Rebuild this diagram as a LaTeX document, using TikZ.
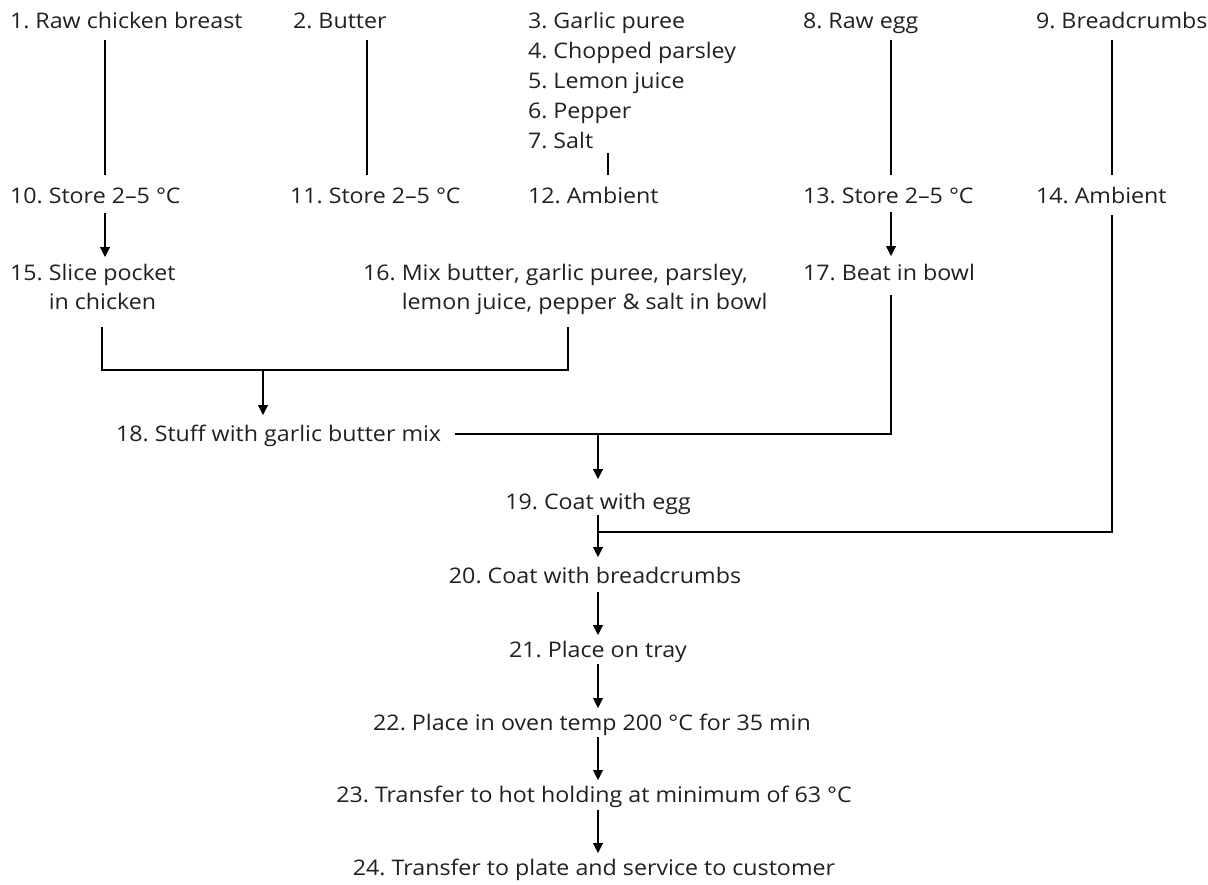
\documentclass[tikz,border=0pt]{standalone}
\usepackage{fontspec}
\setmainfont{Open Sans}[FakeStretch=1.08]
\usetikzlibrary{arrows.meta,calc}
\definecolor{ink}{RGB}{35,31,32}
\newcommand\lblfont{\fontsize{21.5pt}{29pt}\selectfont}
\newcommand\listfont{\fontsize{21.5pt}{30pt}\selectfont}
\frenchspacing
\begin{document}
\begin{tikzpicture}[x=1pt,y=-1pt]
\tikzset{
  lbl/.style={inner sep=0pt, outer sep=0pt, font=\lblfont, text=ink, anchor=base west, align=left},
  ctr/.style={lbl, anchor=base},
  flow/.style={line width=1.1pt, draw=black},
  arr/.style={flow, -{Triangle[width=10pt,length=10pt]}}
}
\useasboundingbox (0,0) rectangle (1208,884);

% column positions of the connectors
\coordinate (c1) at (105,0);
\coordinate (c2) at (367,0);
\coordinate (c3) at (608,0);
\coordinate (c8) at (891,0);
\coordinate (c9) at (1112,0);
\coordinate (cL) at (102,0);
\coordinate (cR) at (568,0);
\coordinate (cM) at (263,0);
\coordinate (cC) at (598,0);

% raw materials (multi-line nodes sit on the baseline of their last line)
\node[lbl] (n1) at (10,28) {1. Raw chicken breast};
\node[lbl] (n2) at (293,28) {2. Butter};
\node[lbl, font=\listfont] (n3) at (528,148) {3. Garlic puree\\4. Chopped parsley\\5. Lemon juice\\6. Pepper\\7. Salt};
\node[lbl] (n8) at (803,28) {8. Raw egg};
\node[lbl] (n9) at (1036,28) {9. Breadcrumbs};

% storage
\node[lbl] (n10) at (10,203) {10. Store 2–5 °C};
\node[lbl] (n11) at (290,203) {11. Store 2–5 °C};
\node[lbl] (n12) at (528,203) {12. Ambient};
\node[lbl] (n13) at (803,203) {13. Store 2–5 °C};
\node[lbl] (n14) at (1036,203) {14. Ambient};

% preparation
\node[lbl] (n15) at (10,309) {15. Slice pocket\\\hphantom{15. }in chicken};
\node[lbl] (n16) at (363,309) {16. Mix butter, garlic puree, parsley,\\\hphantom{16. }lemon juice, pepper \& salt in bowl};
\node[lbl] (n17) at (803,280) {17. Beat in bowl};
\node[lbl] (n18) at (116,441) {18. Stuff with garlic butter mix};

% main line
\node[ctr] (n19) at (598,509) {19. Coat with egg};
\node[ctr] (n20) at (595,583) {20. Coat with breadcrumbs};
\node[ctr] (n21) at (598,657) {21. Place on tray};
\node[ctr] (n22) at (592,730) {22. Place in oven temp 200 °C for 35 min};
\node[ctr] (n23) at (594,802) {23. Transfer to hot holding at minimum of 63 °C};
\node[ctr] (n24) at (594,875) {24. Transfer to plate and service to customer};

% raw materials to storage
\draw[flow] ($(n1.base -| c1)+(0,12)$) -- ($(n10.base -| c1)+(0,-28)$);
\draw[flow] ($(n2.base -| c2)+(0,12)$) -- ($(n11.base -| c2)+(0,-28)$);
\draw[flow] ($(n3.base -| c3)+(0,5)$) -- ($(n12.base -| c3)+(0,-28)$);
\draw[flow] ($(n8.base -| c8)+(0,12)$) -- ($(n13.base -| c8)+(0,-28)$);

% storage to preparation
\draw[arr] ($(n10.base -| c1)+(0,10)$) -- ($(n15.base -| c1)+(0,-52)$);
\draw[arr] ($(n13.base -| c8)+(0,9)$) -- ($(n17.base -| c8)+(0,-24)$);

% chicken and garlic butter join
\draw[flow] ($(n15.base -| cL)+(0,18)$) |- ($(n16.base -| cR)+(0,61)$) -- ($(n16.base -| cR)+(0,18)$);
\draw[arr] ($(n15.base -| cM)+(0,61)$) -- ($(n18.base -| cM)+(0,-26)$);

% beaten egg joins the stuffed chicken
\coordinate (m18) at ($(n18.base)+(0,-7)$);
\draw[flow] ($(n18.base east)+(14,-7)$) -| ($(n17.base -| c8)+(0,15)$);
\draw[arr] (m18 -| cC) -- ($(n19.base -| cC)+(0,-30)$);

% breadcrumbs join after the egg coating
\draw[flow] ($(n9.base -| c9)+(0,12)$) -- ($(n14.base -| c9)+(0,-28)$);
\draw[flow] ($(n14.base -| c9)+(0,12)$) |- ($(n19.base -| cC)+(0,23)$);
\draw[arr] ($(n19.base -| cC)+(0,6)$) -- ($(n20.base -| cC)+(0,-26)$);

% cooking and service
\draw[arr] ($(n20.base -| cC)+(0,9)$) -- ($(n21.base -| cC)+(0,-22)$);
\draw[arr] ($(n21.base -| cC)+(0,7)$) -- ($(n22.base -| cC)+(0,-22)$);
\draw[arr] ($(n22.base -| cC)+(0,7)$) -- ($(n23.base -| cC)+(0,-22)$);
\draw[arr] ($(n23.base -| cC)+(0,8)$) -- ($(n24.base -| cC)+(0,-22)$);
\end{tikzpicture}
\end{document}
